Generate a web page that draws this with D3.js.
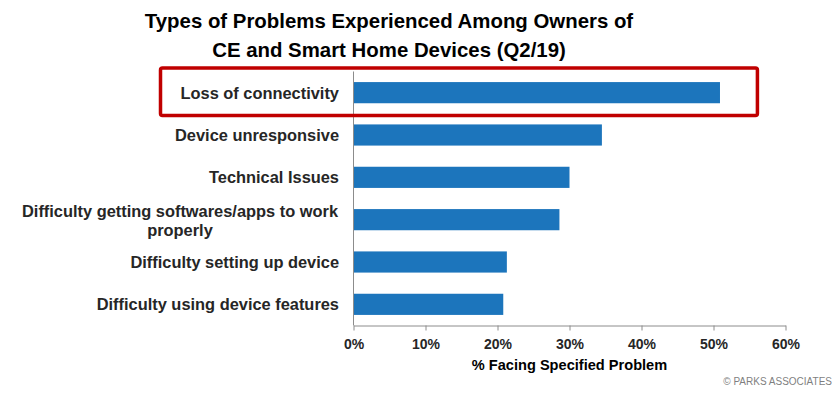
<!DOCTYPE html>
<html>
<head>
<meta charset="utf-8">
<script src="https://cdn.jsdelivr.net/npm/d3@7"></script>
<style>
  body { margin: 0; background: #fff; }
  text { font-family: Arial, "Liberation Sans", sans-serif; }
</style>
</head>
<body>
<div id="chart"></div>
<script>
// ************ Data ************
var categories = [
  'Loss of connectivity',
  'Device unresponsive',
  'Technical Issues',
  'Difficulty getting softwares/apps to work properly',
  'Difficulty setting up device',
  'Difficulty using device features'
];
var values = [0.509, 0.345, 0.300, 0.286, 0.213, 0.208];
var xTicks = [0, 0.1, 0.2, 0.3, 0.4, 0.5, 0.6];
var titleLines = ['Types of Problems Experienced Among Owners of', 'CE and Smart Home Devices (Q2/19)'];
var highlighted = 'Loss of connectivity';

// ************ Layout ************
var width = 840, height = 397;
var plotLeft = 353.5, plotRight = 785.5, plotTop = 71.5, plotBottom = 325.5;

var svg = d3.select('#chart').append('svg')
            .attr('width', width)
            .attr('height', height);

var x = d3.scaleLinear().domain([0, 0.6]).range([plotLeft, plotRight]);
var y = d3.scaleBand().domain(categories).range([plotTop, plotBottom])
          .paddingInner(0.5).paddingOuter(0.25);

// title
svg.append('text')
   .attr('x', 389)
   .attr('y', 28)
   .attr('text-anchor', 'middle')
   .style('font-size', '20.4px')
   .style('font-weight', 'bold')
   .style('fill', '#000')
   .selectAll('tspan')
   .data(titleLines)
   .enter().append('tspan')
   .attr('x', 389)
   .attr('dy', function(d, i) { return i === 0 ? 0 : 29; })
   .text(function(d) { return d; });

// bars
svg.selectAll('rect.bar')
   .data(values)
   .enter().append('rect')
   .attr('class', 'bar')
   .attr('x', x(0))
   .attr('y', function(d, i) { return y(categories[i]); })
   .attr('width', function(d) { return x(d) - x(0); })
   .attr('height', y.bandwidth())
   .style('fill', '#1C75BC');

// x axis
var xAxis = svg.append('g')
   .attr('transform', 'translate(0,' + plotBottom + ')')
   .call(d3.axisBottom(x).tickValues(xTicks).tickFormat(d3.format('.0%')).tickSizeInner(5).tickSizeOuter(0));
xAxis.select('.domain').style('stroke', '#8c8c8c');
xAxis.selectAll('.tick line').style('stroke', '#8c8c8c');
xAxis.selectAll('.tick text')
     .attr('dy', '1.1em')
     .style('font-size', '14px')
     .style('font-weight', 'bold')
     .style('fill', '#262626');

// y axis line
svg.append('line')
   .attr('x1', plotLeft).attr('x2', plotLeft)
   .attr('y1', plotTop).attr('y2', plotBottom)
   .style('stroke', '#8c8c8c');

// category labels
categories.forEach(function(c) {
  var cy = y(c) + y.bandwidth() / 2;
  var t = svg.append('text')
             .style('font-size', '16.4px')
             .style('font-weight', 'bold')
             .style('fill', '#262626');
  if (c.length > 40) {
    var words = c.split(' ');
    var l1 = words.slice(0, -1).join(' '), l2 = words[words.length - 1];
    var w = 318;
    t.attr('text-anchor', 'middle')
     .attr('x', 339 - w / 2)
     .attr('y', cy - 3);
    t.append('tspan').attr('x', 339 - w / 2).text(l1);
    t.append('tspan').attr('x', 339 - w / 2).attr('dy', 19).text(l2);
  } else {
    t.attr('text-anchor', 'end')
     .attr('x', 339)
     .attr('y', cy + 6)
     .text(c);
  }
});

// highlight box
svg.append('rect')
   .attr('x', 160.5)
   .attr('y', y(highlighted) - 14)
   .attr('width', x(0.561) - 160.5)
   .attr('height', y.step() + 5)
   .attr('rx', 2)
   .style('fill', 'none')
   .style('stroke', '#C00000')
   .style('stroke-width', 3.5);

// axis title
svg.append('text')
   .attr('x', (plotLeft + plotRight) / 2)
   .attr('y', 370)
   .attr('text-anchor', 'middle')
   .style('font-size', '14.6px')
   .style('font-weight', 'bold')
   .style('fill', '#000')
   .text('% Facing Specified Problem');

// source
svg.append('text')
   .attr('x', 832)
   .attr('y', 385)
   .attr('text-anchor', 'end')
   .style('font-size', '10px')
   .style('fill', '#7f7f7f')
   .text('\u00A9 PARKS ASSOCIATES');
</script>
</body>
</html>
